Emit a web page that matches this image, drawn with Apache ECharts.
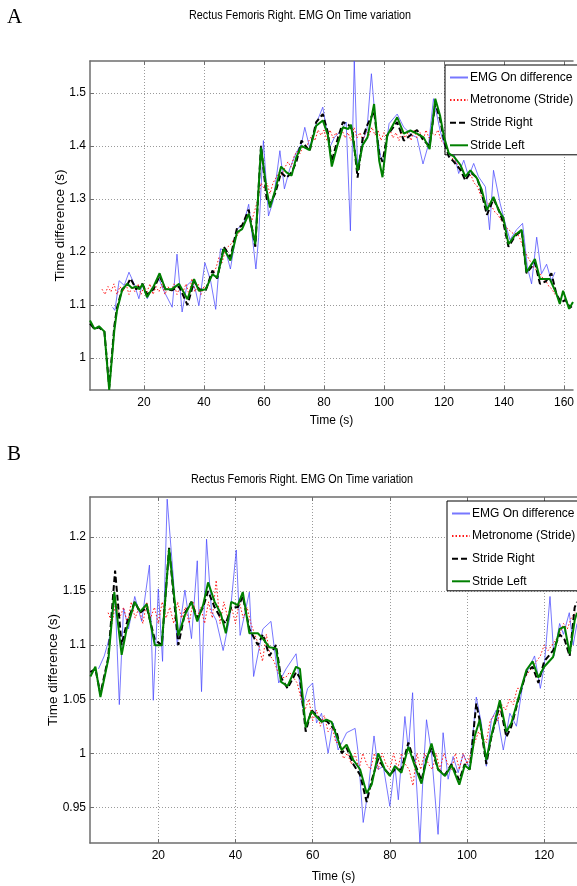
<!DOCTYPE html>
<html>
<head>
<meta charset="utf-8">
<script src="https://cdn.jsdelivr.net/npm/echarts@6/dist/echarts.min.js"></script>
<style>
  html, body { margin: 0; padding: 0; background: #fff; }
  #chart { width: 577px; height: 886px; }
</style>
</head>
<body>
<div id="chart"></div>
<script>
const NAMES = ['EMG On difference', 'Metronome (Stride)', 'Stride Right', 'Stride Left']
const TITLE = 'Rectus Femoris Right. EMG On Time variation'

// ---- panel A ----
const aXTicks = [20, 40, 60, 80, 100, 120, 140, 160]
const aYTicks = [1, 1.1, 1.2, 1.3, 1.4, 1.5]

const aEmg = [
  [9.5,1.096],[10.3,1.09],[11.7,1.146],[13.4,1.137],[15,1.162],[16.7,1.14],[18.3,1.112],[19.4,1.14],
  [21.1,1.112],[22.8,1.134],[25,1.149],[26.6,1.127],[29.4,1.096],[31,1.196],[32.7,1.087],[34.3,1.137],
  [36,1.146],[37.2,1.127],[38.3,1.099],[40.3,1.18],[42.2,1.146],[43.9,1.092],[45.5,1.206],[47.2,1.203],
  [48.8,1.168],[51,1.243],[53.2,1.253],[54.9,1.29],[57.3,1.168],[58.2,1.227],[59.8,1.41],[61.5,1.268],
  [63.1,1.297],[65.3,1.391],[66.8,1.319],[68.6,1.357],[70.8,1.388],[72.5,1.404],[73.6,1.435],[75.2,1.397],
  [77.4,1.442],[79.6,1.473],[81.9,1.397],[83.5,1.416],[85.7,1.429],[87.4,1.445],[88.8,1.24],[90.1,1.56],
  [91.2,1.36],[92.9,1.41],[94.3,1.429],[95.8,1.536],[97.3,1.435],[98.9,1.379],[100,1.372],[101.7,1.442],
  [104.4,1.46],[106.6,1.435],[109.4,1.42],[111,1.416],[113,1.366],[114.9,1.404],[116.5,1.489],[118.7,1.429],
  [120.2,1.4],[121.6,1.379],[123.3,1.386],[124.9,1.348],[126.6,1.373],[128.2,1.342],[129.9,1.367],[131.5,1.342],
  [133.8,1.323],[135.2,1.242],[136.5,1.354],[138.7,1.292],[140.4,1.254],[142,1.223],[144.2,1.242],[146.2,1.254],
  [147.8,1.171],[149.2,1.14],[150.9,1.228],[152.5,1.159],[154.2,1.177],[155.8,1.146],[157,1.162]
]

const aMetro = [
  [6,1.13],[7,1.12],[8,1.135],[9,1.125],[10,1.14],[11,1.12],[12,1.135],[13,1.125],[14,1.14],[15,1.12],
  [16,1.135],[17,1.125],[18,1.14],[19,1.12],[20,1.135],[21,1.125],[22,1.14],[23,1.12],[24,1.135],[25,1.125],
  [26,1.14],[27,1.12],[28,1.135],[29,1.125],[30,1.14],[31,1.12],[32,1.135],[33,1.125],[34,1.14],[35,1.12],
  [36,1.15],[37,1.125],[38,1.14],[39,1.12],[40,1.135],[41,1.13],[42,1.15],[43,1.16],[44,1.17],[45,1.19],
  [46,1.18],[47,1.2],[48,1.21],[49,1.215],[50,1.225],[51,1.23],[52,1.24],[53,1.255],[54,1.26],[55,1.27],
  [56,1.26],[57,1.28],[58,1.3],[59,1.33],[60,1.32],[61,1.33],[62,1.31],[63,1.33],[64,1.34],[65,1.35],
  [66,1.345],[67,1.36],[68,1.37],[69,1.36],[70,1.38],[71,1.39],[72,1.385],[73,1.4],[74,1.395],[75,1.41],
  [76,1.42],[77,1.41],[78,1.43],[79,1.42],[80,1.43],[81,1.41],[82,1.43],[83,1.415],[84,1.425],[85,1.41],
  [86,1.43],[87,1.415],[88,1.425],[89,1.41],[90,1.435],[91,1.415],[92,1.425],[93,1.41],[94,1.43],[95,1.42],
  [96,1.435],[97,1.42],[98,1.43],[99,1.41],[100,1.425],[101,1.415],[102,1.43],[103,1.415],[104,1.425],[105,1.41],
  [106,1.43],[107,1.415],[108,1.425],[109,1.41],[110,1.43],[111,1.415],[112,1.425],[113,1.41],[114,1.43],[115,1.415],
  [116,1.425],[117,1.42],[118,1.43],[119,1.41],[120,1.405],[121,1.39],[122,1.385],[123,1.375],[124,1.37],[125,1.36],
  [126,1.355],[127,1.345],[128,1.34],[129,1.345],[130,1.33],[131,1.325],[132,1.31],[133,1.3],[134,1.295],[135,1.29],
  [136,1.285],[137,1.275],[138,1.27],[139,1.26],[140,1.255],[141,1.245],[142,1.24],[143,1.235],[144,1.235],[145,1.23],
  [146,1.215],[147,1.2],[148,1.19],[149,1.18],[150,1.17],[151,1.165],[152,1.16],[153,1.15],[154,1.145],[155,1.135],
  [156,1.13],[157,1.12]
]

const aStrideR = [
  [2,1.065],[3.5,1.055],[5,1.058],[6.8,1.05],[8.4,0.945],[10.1,1.06],[11,1.095],[12.7,1.13],[14.4,1.138],
  [15.5,1.15],[17.4,1.13],[19.5,1.14],[21,1.12],[23.2,1.13],[25.2,1.155],[27.1,1.13],[29.3,1.128],[31.7,1.135],
  [34.5,1.1],[36.7,1.145],[38.3,1.13],[40.6,1.128],[42.8,1.165],[44.4,1.15],[46.6,1.21],[48.8,1.19],[51,1.245],
  [52.7,1.25],[54.9,1.28],[57.1,1.21],[59,1.4],[60.9,1.3],[62,1.29],[63.7,1.31],[65.7,1.35],[67.5,1.34],
  [69.2,1.35],[70.8,1.37],[72.5,1.41],[75.2,1.39],[77.4,1.445],[79.6,1.46],[81.3,1.425],[82.6,1.37],[84.4,1.41],
  [86.3,1.445],[88.1,1.44],[89.5,1.43],[91.2,1.34],[92.9,1.415],[94.5,1.44],[96.7,1.465],[98.4,1.385],[99.5,1.37],
  [101.1,1.42],[104.4,1.445],[106.6,1.41],[108.8,1.42],[111,1.43],[113.2,1.41],[115.2,1.4],[117.1,1.48],[118.7,1.45],
  [120,1.41],[121.6,1.38],[123.3,1.37],[125.5,1.355],[127.1,1.335],[128.8,1.35],[131,1.34],[132.6,1.31],[134.3,1.27],
  [136.5,1.3],[138.2,1.28],[139.8,1.255],[141.5,1.21],[143.7,1.23],[145.9,1.24],[147.5,1.16],[150.3,1.18],[152,1.14],
  [154,1.145],[155.8,1.16],[157.5,1.12],[159,1.105],[160.5,1.11],[162,1.095],[163,1.1]
]

const aStrideL = [
  [2,1.071],[3.5,1.055],[5,1.06],[6.8,1.05],[8.4,0.94],[10.1,1.052],[11,1.09],[12.7,1.128],[14.4,1.14],
  [16,1.132],[17.4,1.135],[18.5,1.13],[19.5,1.14],[21,1.115],[23.2,1.135],[25.2,1.16],[27.1,1.13],[29.3,1.13],
  [31.7,1.14],[34.5,1.111],[36.7,1.149],[38.3,1.127],[40.6,1.13],[42.8,1.158],[44.4,1.152],[46.6,1.206],[48.8,1.184],
  [51,1.237],[52.7,1.243],[54.9,1.272],[57.1,1.215],[59,1.397],[60.9,1.316],[62,1.284],[63.7,1.316],[65.7,1.361],
  [67.5,1.35],[69.2,1.344],[70.8,1.379],[72.5,1.4],[75.2,1.392],[77.4,1.438],[79.6,1.448],[81.3,1.42],[82.6,1.361],
  [84.4,1.4],[86.3,1.435],[88.1,1.432],[89,1.44],[91.2,1.353],[92.9,1.402],[94.5,1.416],[96.7,1.479],[98.4,1.372],
  [99.5,1.341],[101.1,1.42],[104.4,1.454],[106.6,1.423],[108.8,1.429],[111,1.423],[113.2,1.416],[115.2,1.394],
  [117.1,1.489],[118.7,1.457],[120,1.417],[121.6,1.386],[123.3,1.38],[125.5,1.364],[127.1,1.342],[128.8,1.354],
  [131,1.339],[132.6,1.317],[134.3,1.279],[136.5,1.304],[138.2,1.279],[139.8,1.264],[141.5,1.215],[143.7,1.232],
  [145.9,1.242],[147.5,1.162],[150.3,1.187],[152,1.149],[155.3,1.149],[157.5,1.121],[158.6,1.102],[159.7,1.127],
  [161.7,1.093],[163,1.106]
]

// ---- panel B ----
const bXTicks = [20, 40, 60, 80, 100, 120]
const bYTicks = [0.95, 1, 1.05, 1.1, 1.15, 1.2]

const bEmg = [
  [4.5,1.078],[6,1.09],[7.5,1.109],[8.8,1.146],[9.9,1.045],[11,1.134],[12.3,1.115],[13.9,1.145],[15.7,1.122],
  [17.7,1.174],[18.7,1.049],[20,1.152],[21.1,1.085],[22.3,1.235],[23.9,1.162],[24.9,1.1],[26.9,1.151],[28.6,1.106],
  [30.1,1.178],[31.2,1.057],[32.5,1.198],[33.8,1.131],[35,1.123],[36.8,1.095],[38.5,1.125],[40.2,1.188],[41.2,1.109],
  [43.6,1.149],[44.7,1.071],[47.1,1.115],[49.2,1.122],[51.2,1.065],[53.1,1.078],[55.7,1.092],[57.4,1.042],[58.7,1.06],
  [60,1.065],[61,1.028],[62.3,1.037],[64,1.0],[65.3,1.028],[66.6,1.003],[68.8,1.019],[71,1.023],[71.8,1.0],
  [73.1,0.936],[74.4,0.966],[75.9,1.016],[77,0.985],[78.3,0.988],[80,0.951],[81.3,0.989],[82.2,0.957],[83.9,1.034],
  [84.8,1.003],[85.9,1.056],[86.7,0.985],[87.8,0.917],[88.6,0.979],[89.5,1.031],[90.8,1.0],[92.5,0.925],[93.8,1.019],
  [95.1,0.976],[96.4,0.997],[97.7,0.982],[99,0.999],[100.7,0.986],[102.4,1.052],[103.7,1.028],[105,0.988],[106.3,1.031],
  [107.6,1.04],[109.4,1.003],[111.1,1.037],[112.8,1.025],[114.5,1.065],[115.8,1.077],[117.5,1.09],[119,1.06],[120,1.08],
  [121.5,1.145],[122.5,1.09],[124,1.12],[125,1.11],[126.5,1.13],[127.5,1.1],[128.5,1.12]
]

const bMetro = [
  [7,1.13],[8,1.12],[9,1.14],[10,1.125],[11,1.135],[12,1.12],[13,1.14],[14,1.125],[15,1.135],[16,1.12],
  [17,1.14],[18,1.125],[19,1.135],[20,1.12],[21,1.14],[22,1.125],[23,1.135],[24,1.12],[25,1.14],[26,1.125],
  [27,1.135],[28,1.12],[29,1.14],[30,1.125],[31,1.135],[32,1.12],[33,1.14],[34,1.125],[35,1.16],[36,1.12],
  [37,1.14],[38,1.125],[39,1.135],[40,1.12],[41,1.14],[42,1.125],[43,1.135],[44,1.12],[45,1.11],[46,1.1],
  [47,1.085],[48,1.11],[49,1.09],[50,1.085],[51,1.075],[52,1.07],[53,1.07],[54,1.075],[55,1.07],[56,1.065],
  [57,1.05],[58,1.04],[59,1.05],[60,1.03],[61,1.04],[62,1.025],[63,1.035],[64,1.02],[65,1.025],[66,1.01],
  [67,1.01],[68,0.995],[69,1.0],[70,0.99],[71,1.0],[72,0.985],[73,1.0],[74,0.99],[75,0.985],[76,1.0],
  [77,0.985],[78,1.0],[79,0.99],[80,0.985],[81,1.0],[82,0.985],[83,1.0],[84,0.99],[85,0.985],[86,0.97],
  [87,1.0],[88,0.985],[89,1.0],[90,0.99],[91,0.985],[92,1.0],[93,0.985],[94,1.0],[95,0.99],[96,0.985],
  [97,1.0],[98,0.985],[99,1.0],[100,0.99],[101,1.0],[102,1.01],[103,1.02],[104,1.015],[105,1.01],[106,1.03],
  [107,1.035],[108,1.03],[109,1.045],[110,1.04],[111,1.05],[112,1.045],[113,1.06],[114,1.06],[115,1.07],[116,1.075],
  [117,1.08],[118,1.085],[119,1.09],[120,1.1],[121,1.095],[122,1.1],[123,1.105],[124,1.11],[125,1.12],[126,1.115],
  [127,1.125],[128,1.13]
]

const bStrideR = [
  [2.4,1.075],[3.7,1.078],[5,1.055],[7,1.088],[8.8,1.169],[10.5,1.1],[11.8,1.12],[13.9,1.14],[15.3,1.13],
  [17,1.135],[19.1,1.105],[20.9,1.1],[22.8,1.19],[25.2,1.1],[26.9,1.13],[28.6,1.14],[30.1,1.125],[31.6,1.135],
  [32.9,1.15],[34.6,1.135],[36.2,1.125],[37.5,1.12],[38.9,1.135],[40.6,1.135],[41.9,1.145],[43.6,1.115],[45.8,1.1],
  [47.1,1.11],[48.8,1.09],[50.5,1.1],[51.8,1.07],[53.5,1.06],[55.7,1.075],[56.7,1.07],[58.2,1.02],[59.7,1.04],
  [61,1.035],[62.3,1.03],[63.6,1.03],[64.9,1.025],[66.2,1.02],[67.5,1.0],[68.8,1.005],[70.5,0.99],[72.3,0.98],
  [74,0.955],[75.3,0.975],[77,0.995],[78.7,0.985],[80,0.98],[81.3,0.985],[83,0.985],[84.8,1.01],[86.5,0.99],
  [88.2,0.975],[89.5,0.995],[90.8,1.005],[92.5,0.985],[94.3,0.98],[96,0.99],[98,0.975],[99.4,0.99],[100.7,0.985],
  [102.4,1.046],[103.3,1.03],[105,0.99],[106.3,1.015],[108.5,1.045],[110.2,1.015],[111.5,1.025],[113.7,1.055],
  [115.4,1.075],[117,1.08],[118.5,1.065],[120,1.085],[122.3,1.095],[124,1.11],[125.3,1.105],[126.6,1.09],
  [127.9,1.135],[128.5,1.14]
]

const bStrideL = [
  [2.4,1.071],[3.7,1.08],[5,1.052],[7.1,1.088],[8.6,1.149],[10.5,1.091],[11.8,1.115],[13.9,1.14],[15.3,1.131],
  [17,1.138],[19.1,1.1],[20.9,1.1],[22.8,1.189],[25.2,1.109],[26.9,1.128],[28.6,1.14],[30.1,1.122],[31.6,1.137],
  [32.9,1.158],[34.6,1.14],[36.2,1.129],[37.5,1.111],[38.9,1.14],[40.6,1.137],[41.9,1.149],[43.6,1.111],[45.8,1.111],
  [47.1,1.106],[48.8,1.098],[50.5,1.097],[51.8,1.066],[53.5,1.062],[55.7,1.08],[56.7,1.078],[58.2,1.024],[59.7,1.039],
  [61,1.034],[62.3,1.029],[63.6,1.031],[64.9,1.029],[66.2,1.016],[67.5,1.003],[68.8,1.008],[70.5,0.994],[72.3,0.985],
  [74,0.963],[75.3,0.971],[77,1.0],[78.7,0.985],[80,0.979],[81.3,0.988],[83,0.982],[84.8,1.006],[86.5,0.988],
  [88.2,0.972],[89.5,0.994],[90.8,1.009],[92.5,0.985],[94.3,0.979],[96,0.989],[98,0.971],[99.4,0.989],[100.7,0.985],
  [102,1.016],[103.3,1.031],[105,0.994],[106.3,1.016],[108.5,1.049],[110.2,1.02],[111.5,1.028],[113.7,1.056],
  [115.4,1.077],[117,1.085],[118.5,1.07],[120,1.08],[122.3,1.089],[124,1.115],[125.3,1.117],[126.6,1.092],
  [127.9,1.123],[128.5,1.13]
]

const FONT = 'Liberation Sans, Arial, sans-serif'
const AXIS_GRAY = '#6e6e6e'

const STYLES = [
  { color: '#4a4aff', width: 1, type: 'solid', opacity: 0.75 },
  { color: '#ff0000', width: 1, type: [1.5, 2], opacity: 0.9 },
  { color: '#000000', width: 2, type: [6, 3], opacity: 1 },
  { color: '#008000', width: 2, type: 'solid', opacity: 1 },
]

function xAxisFor(grid, min, max, ticks, name, nameGap) {
  return [
    {
      type: 'value', gridIndex: grid, position: 'bottom', min, max,
      name, nameLocation: 'middle', nameGap,
      nameTextStyle: { color: '#000', fontSize: 12, fontFamily: FONT },
      axisLine: { show: true, onZero: false, lineStyle: { color: AXIS_GRAY, width: 1.5 } },
      axisTick: { inside: true, length: 4, customValues: ticks, lineStyle: { color: AXIS_GRAY } },
      axisLabel: { customValues: ticks, color: '#000', fontSize: 12, fontFamily: FONT, margin: 7 },
      splitLine: { show: true, lineStyle: { color: '#9a9a9a', type: [1, 2], width: 1 } },
    },
    {
      type: 'value', gridIndex: grid, position: 'top', min, max,
      axisLine: { show: true, onZero: false, lineStyle: { color: AXIS_GRAY, width: 1.5 } },
      axisTick: { inside: true, length: 4, customValues: ticks, lineStyle: { color: AXIS_GRAY } },
      axisLabel: { show: false },
      splitLine: { show: false },
    },
  ]
}

function yAxisFor(grid, min, max, ticks, nameGap) {
  return {
    type: 'value', gridIndex: grid, min, max,
    name: 'Time difference (s)', nameLocation: 'middle', nameGap, nameMoveOverlap: false,
    nameTextStyle: { color: '#000', fontSize: 13.5, fontFamily: FONT },
    axisLine: { show: true, onZero: false, lineStyle: { color: AXIS_GRAY, width: 1.5 } },
    axisTick: { show: true, inside: true, length: 4, customValues: ticks, lineStyle: { color: AXIS_GRAY } },
    axisLabel: { customValues: ticks, color: '#000', fontSize: 12, fontFamily: FONT, margin: 4 },
    splitLine: { show: true, lineStyle: { color: '#9a9a9a', type: [1, 2], width: 1 } },
  }
}

function seriesFor(xIdx, yIdx, sets) {
  return sets.map((data, i) => ({
    name: NAMES[i],
    type: 'line',
    xAxisIndex: xIdx, yAxisIndex: yIdx,
    symbol: 'none', showSymbol: false,
    lineStyle: STYLES[i],
    itemStyle: { color: STYLES[i].color },
    z: 2 + i,
    data,
  }))
}

function legendAt(left, top) {
  return {
    data: NAMES, orient: 'vertical', left, top,
    backgroundColor: '#fff', borderColor: '#000', borderWidth: 1,
    padding: [6.5, 6, 3.5, 4],
    itemWidth: 18, itemHeight: 14, itemGap: 10.6,
    selectedMode: false,
    itemStyle: { opacity: 0 },
    textStyle: { color: '#000', fontSize: 12, fontFamily: FONT, padding: [0, 0, 0, -3] },
  }
}

const chart = echarts.init(document.getElementById('chart'), null, { renderer: 'canvas' })

chart.setOption({
  animation: false,
  backgroundColor: '#fff',
  textStyle: { fontFamily: FONT },
  grid: [
    { left: 90, top: 61, right: 0, height: 329 },
    { left: 90, top: 497, right: 0, height: 346 },
  ],
  xAxis: [
    ...xAxisFor(0, 2, 163, aXTicks, 'Time (s)', 25),
    ...xAxisFor(1, 2.3, 128.5, bXTicks, 'Time (s)', 28),
  ],
  yAxis: [
    yAxisFor(0, 0.94, 1.56, aYTicks, 23),
    yAxisFor(1, 0.917, 1.237, bYTicks, 30),
  ],
  legend: [legendAt(445, 65), legendAt(447, 501)],
  graphic: [
    { type: 'text', x: 7, y: 7, style: { text: 'A', font: '21px "Liberation Serif", serif', fill: '#000' } },
    { type: 'text', x: 7, y: 444, style: { text: 'B', font: '21px "Liberation Serif", serif', fill: '#000' } },
    { type: 'text', x: 300, y: 15, scaleX: 0.83, style: { text: TITLE, font: '13px "Liberation Sans", Arial', fill: '#000', align: 'center', verticalAlign: 'middle' } },
    { type: 'text', x: 302, y: 479, scaleX: 0.83, style: { text: TITLE, font: '13px "Liberation Sans", Arial', fill: '#000', align: 'center', verticalAlign: 'middle' } },
  ],
  series: [
    ...seriesFor(0, 0, [aEmg, aMetro, aStrideR, aStrideL]),
    ...seriesFor(2, 1, [bEmg, bMetro, bStrideR, bStrideL]),
  ],
})
</script>
</body>
</html>
